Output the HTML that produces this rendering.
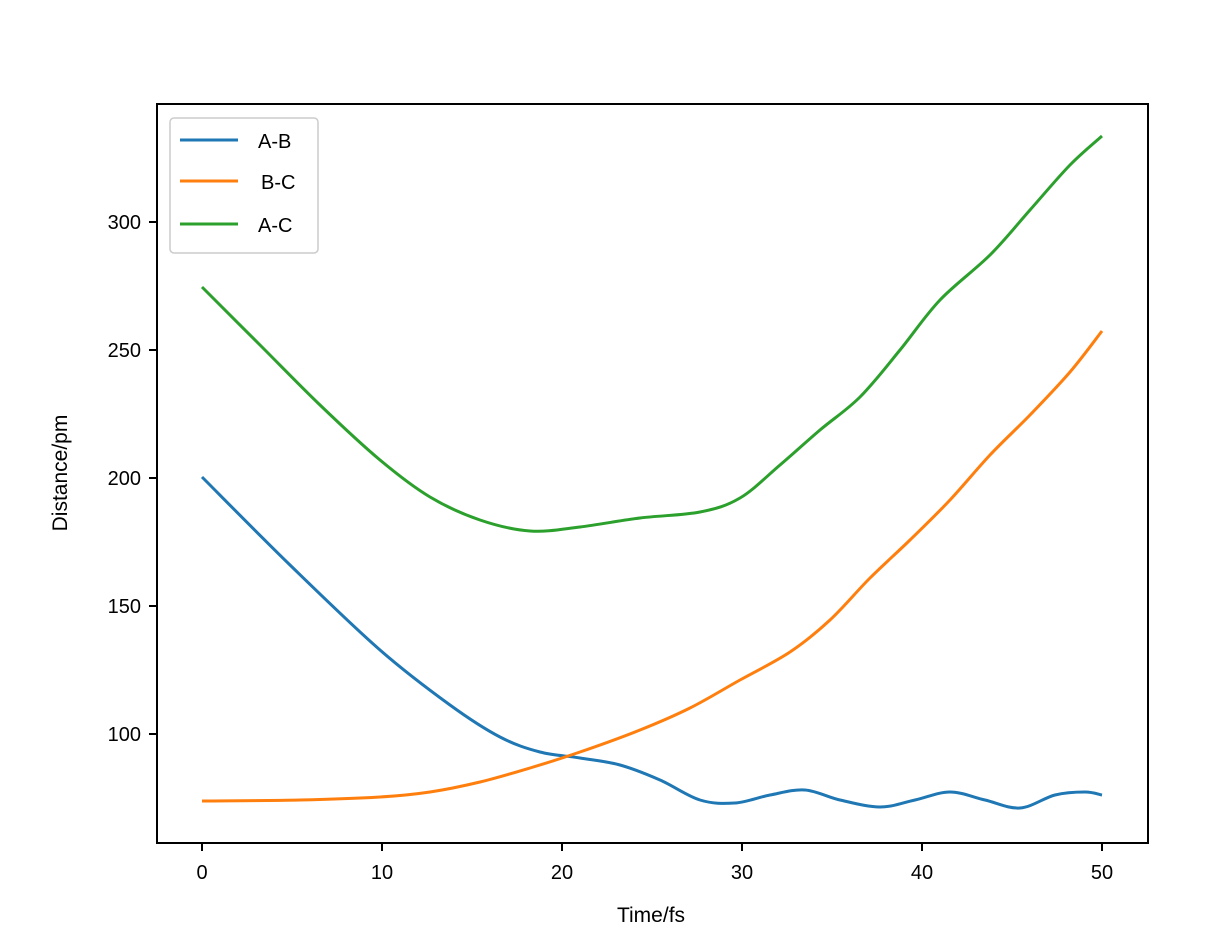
<!DOCTYPE html>
<html><head><style>body{margin:0;background:#fff}svg{display:block}text{font-family:"Liberation Sans","DejaVu Sans",sans-serif;fill:#000}</style></head>
<body>
<svg width="1230" height="946" viewBox="0 0 1230 946">
<rect x="0" y="0" width="1230" height="946" fill="#fff"/>
<g fill="none" stroke-width="3" stroke-linejoin="round" stroke-linecap="butt">
<polyline class="c" stroke="#1f77b4" points="202,477 290,565 380,650 450,705 500,737 540,752 580,758 620,765 660,780 700,800 735,803 770,795 805,790 840,800 880,807 915,800 950,792 985,800 1020,808 1055,795 1085,792 1102,795"/>
<polyline class="c" stroke="#ff7f0e" points="202,801 300,800 380,797 430,792 480,782 530,768 580,752 640,730 690,708 740,680 790,652 830,620 870,578 910,540 950,500 990,455 1030,415 1070,372 1102,331"/>
<polyline class="c" stroke="#2ca02c" points="202,287 260,345 320,405 380,460 430,497 480,520 530,531 580,527 640,518 700,512 740,498 780,465 820,430 860,397 900,350 940,300 990,255 1030,210 1070,165 1102,136"/>
</g>
<rect x="157" y="104" width="991" height="739" fill="none" stroke="#000" stroke-width="2"/>
<g stroke="#000" stroke-width="2">
<line x1="202" y1="843" x2="202" y2="851"/><line x1="382" y1="843" x2="382" y2="851"/><line x1="562" y1="843" x2="562" y2="851"/><line x1="742" y1="843" x2="742" y2="851"/><line x1="922" y1="843" x2="922" y2="851"/><line x1="1102" y1="843" x2="1102" y2="851"/>
<line x1="149" y1="734" x2="157" y2="734"/><line x1="149" y1="606" x2="157" y2="606"/><line x1="149" y1="478" x2="157" y2="478"/><line x1="149" y1="350" x2="157" y2="350"/><line x1="149" y1="222" x2="157" y2="222"/>
</g>
<g font-size="20" text-anchor="middle">
<text x="202" y="879">0</text><text x="382" y="879">10</text><text x="562" y="879">20</text><text x="742" y="879">30</text><text x="922" y="879">40</text><text x="1102" y="879">50</text>
</g>
<g font-size="20" text-anchor="end">
<text x="141" y="741">100</text><text x="141" y="613">150</text><text x="141" y="485">200</text><text x="141" y="357">250</text><text x="141" y="229">300</text>
</g>
<text x="651" y="922" font-size="21" text-anchor="middle">Time/fs</text>
<text transform="translate(67,473) rotate(-90)" font-size="21" text-anchor="middle">Distance/pm</text>
<rect x="170" y="118" width="148" height="135" rx="4" fill="#fff" fill-opacity="0.8" stroke="#ccc" stroke-width="1.5"/>
<g stroke-width="3"><line x1="180" y1="140" x2="238" y2="140" stroke="#1f77b4"/><line x1="180" y1="181" x2="238" y2="181" stroke="#ff7f0e"/><line x1="180" y1="224" x2="238" y2="224" stroke="#2ca02c"/></g>
<g font-size="20"><text x="258" y="148">A-B</text><text x="261" y="189">B-C</text><text x="258" y="232">A-C</text></g>
</svg>
<script>
document.querySelectorAll('polyline.c').forEach(function(pl){
  var p=pl.getAttribute('points').trim().split(/\s+/).map(function(s){return s.split(',').map(Number);});
  var d='M'+p[0][0]+','+p[0][1];
  for(var i=0;i<p.length-1;i++){
    var p0=p[i-1]||p[i],p1=p[i],p2=p[i+1],p3=p[i+2]||p[i+1];
    var c1x=p1[0]+(p2[0]-p0[0])/6,c1y=p1[1]+(p2[1]-p0[1])/6;
    var c2x=p2[0]-(p3[0]-p1[0])/6,c2y=p2[1]-(p3[1]-p1[1])/6;
    d+=' C'+c1x.toFixed(1)+','+c1y.toFixed(1)+' '+c2x.toFixed(1)+','+c2y.toFixed(1)+' '+p2[0]+','+p2[1];
  }
  var path=document.createElementNS('http://www.w3.org/2000/svg','path');
  path.setAttribute('d',d);path.setAttribute('stroke',pl.getAttribute('stroke'));
  pl.parentNode.replaceChild(path,pl);
});
</script>
</body></html>
